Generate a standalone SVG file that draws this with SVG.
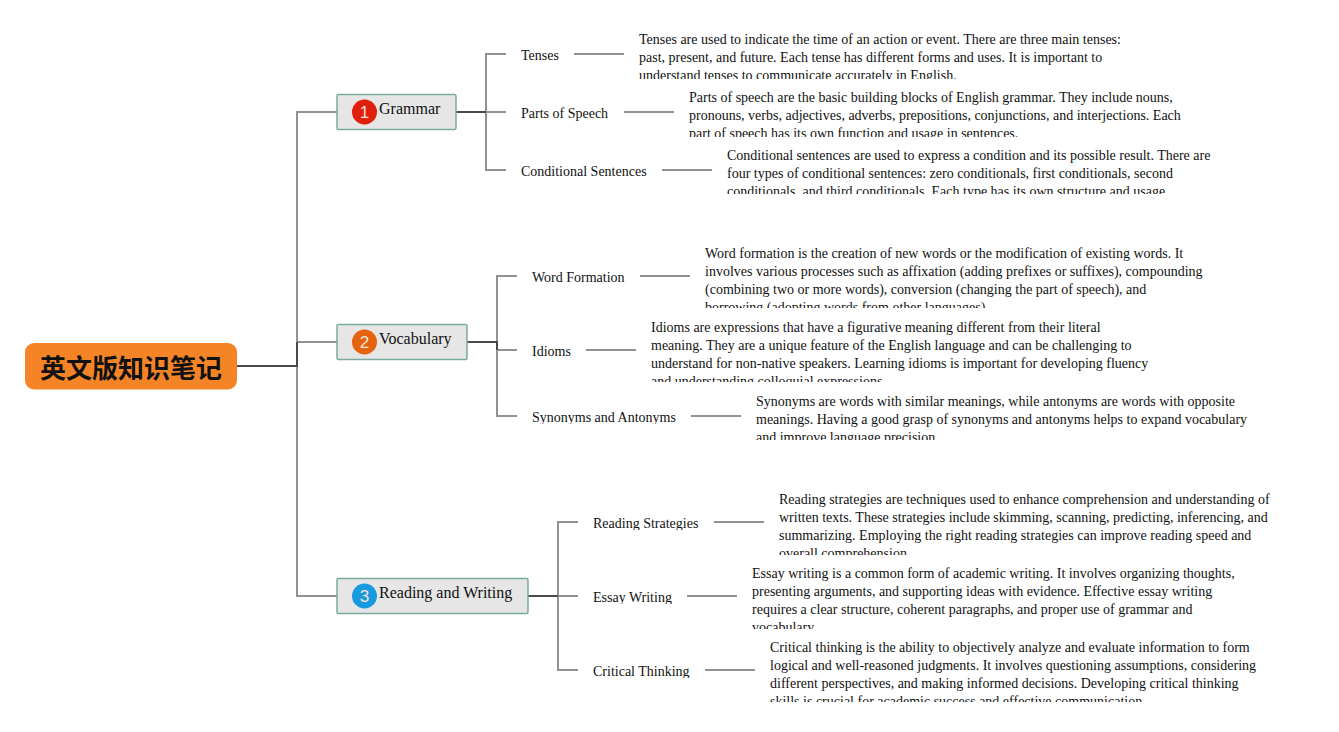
<svg xmlns="http://www.w3.org/2000/svg" width="1339" height="732" viewBox="0 0 1339 732">
<style>
text{font-family:"Liberation Serif","Noto Serif",serif;fill:#111}
.d{font-size:14px}
.l{font-size:14px}
.t{font-size:16px}
.r{font-family:"Noto Sans CJK SC","Noto Sans",sans-serif;font-size:26px;font-weight:700;fill:#111}
.c{fill:none;stroke:#929292;stroke-width:2}
.k{fill:none;stroke:#4a4a4a;stroke-width:2}
.b{fill:#e6e6e6;stroke:#79ac9c;stroke-width:1.5}
.n{font-family:"Liberation Sans",sans-serif;font-size:17px;fill:#f6e3da;text-anchor:middle}
</style>
<defs>
<clipPath id="c1"><rect x="630" y="28" width="520" height="51"/></clipPath>
<clipPath id="c2"><rect x="680" y="86" width="520" height="51"/></clipPath>
<clipPath id="c3"><rect x="720" y="144" width="520" height="50"/></clipPath>
<clipPath id="c4"><rect x="700" y="242" width="520" height="66"/></clipPath>
<clipPath id="c5"><rect x="645" y="316" width="520" height="66"/></clipPath>
<clipPath id="c6"><rect x="750" y="390" width="520" height="50"/></clipPath>
<clipPath id="c7"><rect x="775" y="488" width="520" height="67"/></clipPath>
<clipPath id="c8"><rect x="745" y="562" width="520" height="67"/></clipPath>
<clipPath id="c9"><rect x="765" y="636" width="520" height="66"/></clipPath>
<clipPath id="l6"><rect x="525" y="405" width="170" height="19"/></clipPath>
<clipPath id="l7"><rect x="585" y="511" width="130" height="19"/></clipPath>
<clipPath id="l8"><rect x="585" y="585" width="100" height="19"/></clipPath>
<clipPath id="l9"><rect x="585" y="659" width="110" height="19"/></clipPath>
</defs>
<g id="connectors">
<path class="c" d="M337 112H297V596H337M297 342H337"/>
<path class="k" d="M237 366H297V342"/>
<path class="c" d="M506 54H486V170H506M486 112H506M574 54H624M624 112H674M662 170H712"/>
<path class="k" d="M456 112H486"/>
<path class="c" d="M517 276H497V416H517M497 350H517M640 276H690M586 350H636M691 416H741"/>
<path class="k" d="M467 342H497V350"/>
<path class="c" d="M578 522H558V670H578M558 596H578M714 522H764M687 596H737M705 670H755"/>
<path class="k" d="M528 596H558"/>
</g>
<g id="root"><rect x="25" y="343" width="212" height="46.500" rx="9" fill="#f58426"/><text class="r" x="131" y="378" text-anchor="middle">英文版知识笔记</text></g>
<g id="grammar"><rect class="b" x="337" y="94.500" width="119" height="35" rx="1.500"/><circle cx="364.500" cy="112" r="12.500" fill="#e0200c"/><text class="n" x="364.500" y="118">1</text><text class="t" x="379" y="114">Grammar</text></g>
<g id="vocabulary"><rect class="b" x="337" y="324.500" width="130" height="35" rx="1.500"/><circle cx="364.500" cy="342" r="12.500" fill="#e5620f"/><text class="n" x="364.500" y="348">2</text><text class="t" x="379" y="344">Vocabulary</text></g>
<g id="reading-writing"><rect class="b" x="337" y="578.500" width="191" height="35" rx="1.500"/><circle cx="364.500" cy="596" r="12.500" fill="#1a9ade"/><text class="n" x="364.500" y="602">3</text><text class="t" x="379" y="598">Reading and Writing</text></g>
<g id="tenses"><text class="l" x="521" y="60">Tenses</text></g>
<g id="tenses-note"><text class="d" clip-path="url(#c1)"><tspan x="639" y="44">Tenses are used to indicate the time of an action or event. There are three main tenses:</tspan><tspan x="639" y="62">past, present, and future. Each tense has different forms and uses. It is important to</tspan><tspan x="639" y="80">understand tenses to communicate accurately in English.</tspan></text></g>
<g id="parts"><text class="l" x="521" y="118">Parts of Speech</text></g>
<g id="parts-note"><text class="d" clip-path="url(#c2)"><tspan x="689" y="102">Parts of speech are the basic building blocks of English grammar. They include nouns,</tspan><tspan x="689" y="120">pronouns, verbs, adjectives, adverbs, prepositions, conjunctions, and interjections. Each</tspan><tspan x="689" y="138">part of speech has its own function and usage in sentences.</tspan></text></g>
<g id="conditional"><text class="l" x="521" y="176">Conditional Sentences</text></g>
<g id="conditional-note"><text class="d" clip-path="url(#c3)"><tspan x="727" y="160">Conditional sentences are used to express a condition and its possible result. There are</tspan><tspan x="727" y="178">four types of conditional sentences: zero conditionals, first conditionals, second</tspan><tspan x="727" y="196">conditionals, and third conditionals. Each type has its own structure and usage.</tspan></text></g>
<g id="word-formation"><text class="l" x="532" y="282">Word Formation</text></g>
<g id="word-formation-note"><text class="d" clip-path="url(#c4)"><tspan x="705" y="258">Word formation is the creation of new words or the modification of existing words. It</tspan><tspan x="705" y="276">involves various processes such as affixation (adding prefixes or suffixes), compounding</tspan><tspan x="705" y="294">(combining two or more words), conversion (changing the part of speech), and</tspan><tspan x="705" y="312">borrowing (adopting words from other languages).</tspan></text></g>
<g id="idioms"><text class="l" x="532" y="356">Idioms</text></g>
<g id="idioms-note"><text class="d" clip-path="url(#c5)"><tspan x="651" y="332">Idioms are expressions that have a figurative meaning different from their literal</tspan><tspan x="651" y="350">meaning. They are a unique feature of the English language and can be challenging to</tspan><tspan x="651" y="368">understand for non-native speakers. Learning idioms is important for developing fluency</tspan><tspan x="651" y="386">and understanding colloquial expressions.</tspan></text></g>
<g id="synonyms"><text class="l" x="532" y="422" clip-path="url(#l6)">Synonyms and Antonyms</text></g>
<g id="synonyms-note"><text class="d" clip-path="url(#c6)"><tspan x="756" y="406">Synonyms are words with similar meanings, while antonyms are words with opposite</tspan><tspan x="756" y="424">meanings. Having a good grasp of synonyms and antonyms helps to expand vocabulary</tspan><tspan x="756" y="442">and improve language precision.</tspan></text></g>
<g id="reading-strategies"><text class="l" x="593" y="528" clip-path="url(#l7)">Reading Strategies</text></g>
<g id="reading-strategies-note"><text class="d" clip-path="url(#c7)"><tspan x="779" y="504">Reading strategies are techniques used to enhance comprehension and understanding of</tspan><tspan x="779" y="522">written texts. These strategies include skimming, scanning, predicting, inferencing, and</tspan><tspan x="779" y="540">summarizing. Employing the right reading strategies can improve reading speed and</tspan><tspan x="779" y="558">overall comprehension.</tspan></text></g>
<g id="essay"><text class="l" x="593" y="602" clip-path="url(#l8)">Essay Writing</text></g>
<g id="essay-note"><text class="d" clip-path="url(#c8)"><tspan x="752" y="578">Essay writing is a common form of academic writing. It involves organizing thoughts,</tspan><tspan x="752" y="596">presenting arguments, and supporting ideas with evidence. Effective essay writing</tspan><tspan x="752" y="614">requires a clear structure, coherent paragraphs, and proper use of grammar and</tspan><tspan x="752" y="632">vocabulary.</tspan></text></g>
<g id="critical"><text class="l" x="593" y="676" clip-path="url(#l9)">Critical Thinking</text></g>
<g id="critical-note"><text class="d" clip-path="url(#c9)"><tspan x="770" y="652">Critical thinking is the ability to objectively analyze and evaluate information to form</tspan><tspan x="770" y="670">logical and well-reasoned judgments. It involves questioning assumptions, considering</tspan><tspan x="770" y="688">different perspectives, and making informed decisions. Developing critical thinking</tspan><tspan x="770" y="706">skills is crucial for academic success and effective communication.</tspan></text></g>
</svg>
